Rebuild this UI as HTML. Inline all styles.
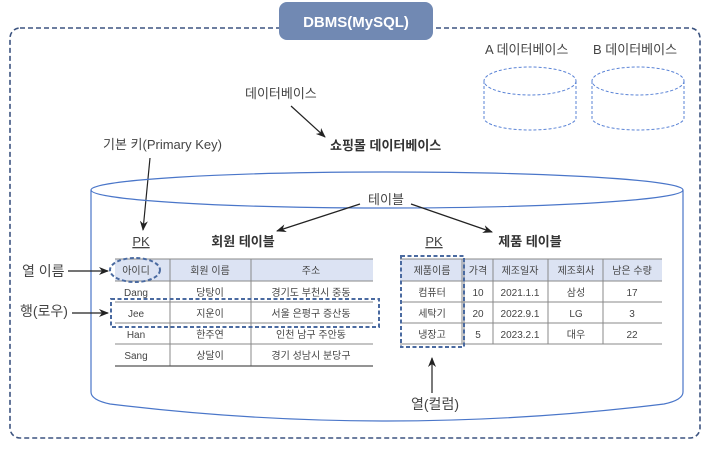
<!DOCTYPE html>
<html><head><meta charset="utf-8"><style>
body{margin:0;background:#fff;}
svg text{font-family:"Liberation Sans","Noto Sans CJK KR",sans-serif;fill:#444;}
</style></head><body>
<svg width="709" height="446" viewBox="0 0 709 446" xmlns="http://www.w3.org/2000/svg">
<defs><marker id="ar" markerWidth="10" markerHeight="8" refX="9" refY="4" orient="auto" markerUnits="userSpaceOnUse"><path d="M0,0 L10,4 L0,8 L3,4 Z" fill="#222"/></marker></defs>
<rect x="10" y="28" width="690" height="410" rx="10" fill="none" stroke="#3d5480" stroke-width="1.6" stroke-dasharray="5,3"/>
<rect x="279" y="2" width="154" height="38" rx="8" fill="#7189b3"/>
<text x="356" y="27" font-size="15" font-weight="bold" text-anchor="middle" style="fill:#fff">DBMS(MySQL)</text>
<!-- small cylinders -->
<g fill="none" stroke="#5a83d6" stroke-width="1" stroke-dasharray="3,2">
<ellipse cx="530" cy="81" rx="46" ry="14"/><path d="M484,81 V118 A46,12 0 0 0 576,118 V81"/>
<ellipse cx="638" cy="81" rx="46" ry="14"/><path d="M592,81 V118 A46,12 0 0 0 684,118 V81"/>
</g>
<text x="485" y="54" font-size="13">A 데이터베이스</text>
<text x="593" y="54" font-size="13">B 데이터베이스</text>
<text x="245" y="98" font-size="13">데이터베이스</text>
<line x1="291" y1="106" x2="325" y2="137" stroke="#222" stroke-width="1.2" marker-end="url(#ar)"/>
<text x="330" y="150" font-size="13" font-weight="bold" style="fill:#333">쇼핑몰 데이터베이스</text>
<text x="103" y="149" font-size="13">기본 키(Primary Key)</text>
<line x1="150" y1="158" x2="143" y2="230" stroke="#222" stroke-width="1.2" marker-end="url(#ar)"/>
<!-- big cylinder -->
<g fill="none" stroke="#4a76c9" stroke-width="1.2">
<ellipse cx="387" cy="190" rx="296" ry="18"/>
<path d="M91,190 V392 Q91,400 110,404 Q387,438 664,404 Q683,400 683,392 V190"/>
</g>
<text x="386" y="204" font-size="13" text-anchor="middle">테이블</text>
<line x1="360" y1="204" x2="277" y2="231" stroke="#222" stroke-width="1.2" marker-end="url(#ar)"/>
<line x1="411" y1="204" x2="492" y2="232" stroke="#222" stroke-width="1.2" marker-end="url(#ar)"/>
<text x="141" y="246" font-size="13" text-anchor="middle" text-decoration="underline">PK</text>
<text x="434" y="246" font-size="13" text-anchor="middle" text-decoration="underline">PK</text>
<text x="243" y="246" font-size="13" font-weight="bold" text-anchor="middle" style="fill:#333">회원 테이블</text>
<text x="530" y="246" font-size="13" font-weight="bold" text-anchor="middle" style="fill:#333">제품 테이블</text>
<!-- member table -->
<rect x="115" y="259" width="258" height="22" fill="#dce3f3"/>
<g stroke="#888" stroke-width="1">
<line x1="115" y1="259" x2="373" y2="259"/><line x1="115" y1="281" x2="373" y2="281"/>
<line x1="115" y1="302" x2="373" y2="302"/><line x1="115" y1="323" x2="373" y2="323"/>
<line x1="115" y1="344" x2="373" y2="344"/>
<line x1="170" y1="259" x2="170" y2="366"/><line x1="251" y1="259" x2="251" y2="366"/>
</g>
<line x1="115" y1="366" x2="373" y2="366" stroke="#555" stroke-width="1.2"/>
<g font-size="10" text-anchor="middle">
<text x="136" y="274">아이디</text><text x="210" y="274">회원 이름</text><text x="311" y="274">주소</text>
<text x="136" y="296">Dang</text><text x="210" y="296">당탕이</text><text x="311" y="296">경기도 부천시 중동</text>
<text x="136" y="317">Jee</text><text x="210" y="317">지운이</text><text x="311" y="317">서울 은평구 증산동</text>
<text x="136" y="338">Han</text><text x="210" y="338">한주연</text><text x="311" y="338">인천 남구 주안동</text>
<text x="136" y="359">Sang</text><text x="210" y="359">상달이</text><text x="311" y="359">경기 성남시 분당구</text>
</g>
<ellipse cx="135" cy="270" rx="25" ry="12" fill="none" stroke="#4a6aa0" stroke-width="2" stroke-dasharray="4,2.5"/>
<rect x="111" y="299" width="268" height="28" fill="none" stroke="#4a6aa0" stroke-width="2" stroke-dasharray="4,2.5"/>
<!-- product table -->
<rect x="400" y="259" width="262" height="22" fill="#dce3f3"/>
<g stroke="#888" stroke-width="1">
<line x1="400" y1="259" x2="662" y2="259"/><line x1="400" y1="281" x2="662" y2="281"/>
<line x1="400" y1="302" x2="662" y2="302"/><line x1="400" y1="323" x2="662" y2="323"/>
<line x1="400" y1="344" x2="662" y2="344"/>
<line x1="462" y1="259" x2="462" y2="344"/><line x1="464" y1="259" x2="464" y2="344"/>
<line x1="493" y1="259" x2="493" y2="344"/><line x1="548" y1="259" x2="548" y2="344"/><line x1="603" y1="259" x2="603" y2="344"/>
</g>
<g font-size="10" text-anchor="middle">
<text x="432" y="274">제품이름</text><text x="478" y="274">가격</text><text x="520" y="274">제조일자</text><text x="576" y="274">제조회사</text><text x="632" y="274">남은 수량</text>
<text x="432" y="296">컴퓨터</text><text x="478" y="296">10</text><text x="520" y="296">2021.1.1</text><text x="576" y="296">삼성</text><text x="632" y="296">17</text>
<text x="432" y="317">세탁기</text><text x="478" y="317">20</text><text x="520" y="317">2022.9.1</text><text x="576" y="317">LG</text><text x="632" y="317">3</text>
<text x="432" y="338">냉장고</text><text x="478" y="338">5</text><text x="520" y="338">2023.2.1</text><text x="576" y="338">대우</text><text x="632" y="338">22</text>
</g>
<rect x="401" y="256" width="63" height="91" fill="none" stroke="#4a6aa0" stroke-width="2" stroke-dasharray="4,2.5"/>
<!-- side labels -->
<text x="22" y="276" font-size="14">열 이름</text>
<line x1="68" y1="271" x2="108" y2="271" stroke="#222" stroke-width="1.2" marker-end="url(#ar)"/>
<text x="20" y="316" font-size="14">행(로우)</text>
<line x1="72" y1="313" x2="108" y2="313" stroke="#222" stroke-width="1.2" marker-end="url(#ar)"/>
<text x="435" y="409" font-size="14" text-anchor="middle">열(컬럼)</text>
<line x1="432" y1="393" x2="432" y2="358" stroke="#222" stroke-width="1.2" marker-end="url(#ar)"/>
</svg>
</body></html>
